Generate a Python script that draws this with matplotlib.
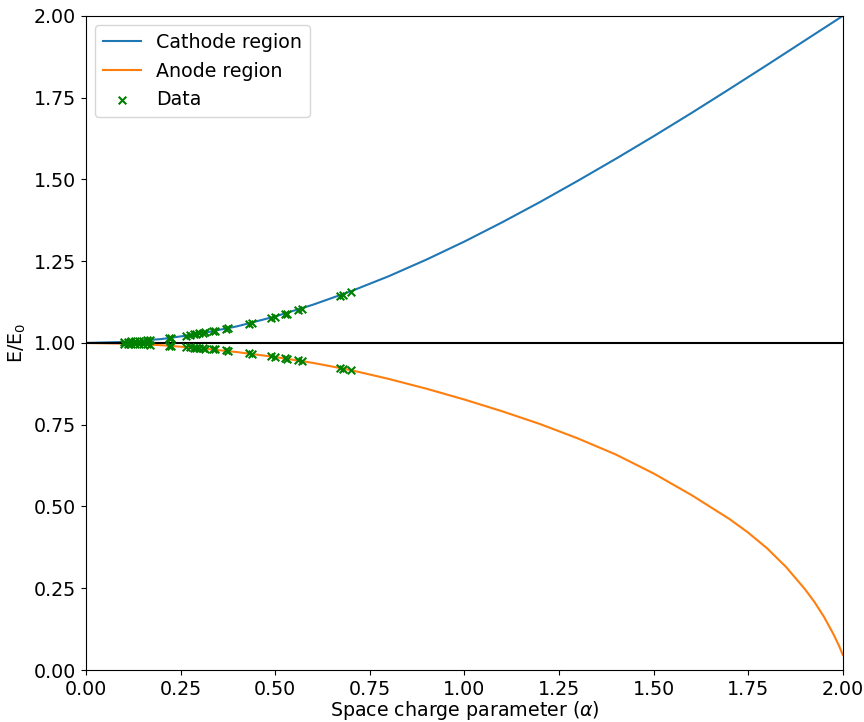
# Electric field at the electrodes vs. space charge parameter
import numpy as np
import matplotlib.pyplot as plt

# curve values
alpha_cath = [0.0, 0.1, 0.2, 0.3, 0.4, 0.5, 0.6, 0.7, 0.8, 0.9, 1.0,
              1.1, 1.2, 1.3, 1.4, 1.5, 1.6, 1.7, 1.8, 1.9, 2.0]
cathode = [1.000, 1.003, 1.012, 1.028, 1.051, 1.081, 1.117, 1.158, 1.204, 1.255, 1.310,
           1.369, 1.431, 1.496, 1.563, 1.632, 1.703, 1.776, 1.850, 1.925, 2.000]

alpha_anode = [0.0, 0.1, 0.2, 0.3, 0.4, 0.5, 0.6, 0.7, 0.8, 0.9, 1.0,
               1.1, 1.2, 1.3, 1.4, 1.5, 1.6, 1.7, 1.75, 1.8, 1.85, 1.9,
               1.925, 1.95, 1.975, 1.99, 2.0]
anode = [1.000, 0.998, 0.993, 0.984, 0.972, 0.957, 0.939, 0.917, 0.890, 0.860, 0.827,
         0.791, 0.752, 0.708, 0.659, 0.601, 0.535, 0.462, 0.420, 0.372, 0.315, 0.247,
         0.208, 0.163, 0.110, 0.074, 0.046]

# measured points
alpha_data = [0.10, 0.11, 0.12, 0.13, 0.14, 0.15, 0.16, 0.17, 0.22, 0.225,
              0.265, 0.275, 0.285, 0.29, 0.30, 0.31, 0.315, 0.335, 0.34, 0.37,
              0.375, 0.43, 0.44, 0.49, 0.50, 0.525, 0.53, 0.56, 0.57, 0.67,
              0.68, 0.70]
cath_data = [1.003, 1.004, 1.005, 1.005, 1.006, 1.007, 1.008, 1.009, 1.015, 1.016,
             1.022, 1.024, 1.026, 1.027, 1.029, 1.031, 1.032, 1.036, 1.037, 1.044,
             1.045, 1.059, 1.062, 1.077, 1.080, 1.088, 1.090, 1.100, 1.104, 1.144,
             1.148, 1.157]
anode_data = [0.998, 0.998, 0.998, 0.997, 0.997, 0.996, 0.996, 0.995, 0.992, 0.991,
              0.988, 0.987, 0.986, 0.986, 0.985, 0.984, 0.983, 0.981, 0.980, 0.977,
              0.976, 0.969, 0.967, 0.959, 0.957, 0.953, 0.952, 0.947, 0.945, 0.924,
              0.921, 0.917]

plt.rcParams['font.size'] = 13.7

fig = plt.figure(figsize=(8.64, 7.22), dpi=100)
ax = fig.add_axes([0.0995, 0.072, 0.876, 0.906])

ax.plot(alpha_cath, cathode, color='tab:blue', label='Cathode region')
ax.plot(alpha_anode, anode, color='tab:orange', label='Anode region')
ax.axhline(1.0, color='black', lw=1.5)
ax.scatter(alpha_data, cath_data, marker='x', color='green', s=30, label='Data', zorder=3)
ax.scatter(alpha_data, anode_data, marker='x', color='green', s=30, zorder=3)

ax.set_xlim(0, 2)
ax.set_ylim(0, 2)
ax.set_xticks(np.arange(0, 2.01, 0.25))
ax.set_yticks(np.arange(0, 2.01, 0.25))
ax.set_xlabel(r'Space charge parameter ($\alpha$)', labelpad=0)
ax.set_ylabel('E/E$_0$')
ax.legend(loc='upper left')

fig.savefig('out.png')
